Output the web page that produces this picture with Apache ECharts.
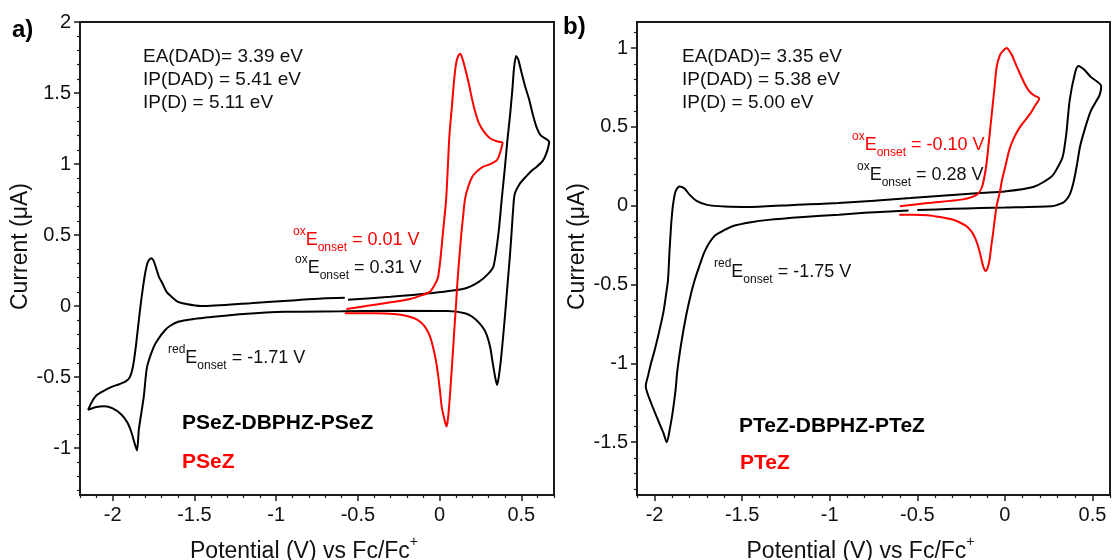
<!DOCTYPE html>
<html><head><meta charset="utf-8">
<script src="https://cdn.jsdelivr.net/npm/echarts@6/dist/echarts.min.js"></script>
<style>html,body{margin:0;padding:0;background:#fff}#c{width:1112px;height:560px}</style>
</head><body><div id="c"></div>
<script>
// ---------- axis ticks / ranges ----------
const xTicksA = [-2, -1.5, -1, -0.5, 0, 0.5];
const yTicksA = [-1, -0.5, 0, 0.5, 1, 1.5, 2];
const xTicksB = [-2, -1.5, -1, -0.5, 0, 0.5];
const yTicksB = [-1.5, -1, -0.5, 0, 0.5, 1];
const xRangeA = [-2.2, 0.7];
const yRangeA = [-1.33, 2];
const xRangeB = [-2.1, 0.6];
const yRangeB = [-1.835, 1.165];

// ---------- data: [potential V, current uA] ----------
const pseZDimer = [
  [-0.56,0.045],[-0.3,0.065],[-0.06,0.09],[0.155,0.124],[0.24,0.17],[0.3,0.23],[0.33,0.28],[0.36,0.51],
  [0.38,0.75],[0.40,0.98],[0.415,1.17],[0.43,1.33],[0.445,1.52],[0.455,1.67],[0.468,1.76],[0.48,1.74],
  [0.5,1.65],[0.525,1.54],[0.549,1.45],[0.57,1.35],[0.593,1.26],[0.62,1.2],[0.67,1.157],
  [0.655,1.08],[0.63,1.02],[0.593,0.98],[0.56,0.95],[0.527,0.91],[0.49,0.86],[0.46,0.79],[0.45,0.68],
  [0.44,0.51],[0.43,0.35],[0.418,0.185],[0.405,0.0],[0.39,-0.2],[0.375,-0.38],[0.362,-0.5],[0.352,-0.555],
  [0.34,-0.5],[0.325,-0.4],[0.309,-0.286],[0.28,-0.18],[0.243,-0.12],[0.2,-0.075],[0.155,-0.05],[0.05,-0.035],
  [-0.3,-0.033],[-0.6,-0.037],[-0.94,-0.04],[-1.2,-0.055],[-1.38,-0.075],[-1.5,-0.09],[-1.6,-0.11],
  [-1.65,-0.14],[-1.68,-0.17],[-1.72,-0.23],[-1.75,-0.29],[-1.79,-0.43],[-1.81,-0.64],[-1.84,-0.87],
  [-1.851,-1.016],[-1.865,-0.97],[-1.885,-0.89],[-1.91,-0.82],[-1.95,-0.76],[-2.0,-0.72],[-2.05,-0.705],
  [-2.1,-0.71],[-2.15,-0.73],[-2.13,-0.68],[-2.1,-0.63],[-2.06,-0.6],[-2.01,-0.57],[-1.96,-0.55],
  [-1.92,-0.53],[-1.895,-0.5],[-1.875,-0.42],[-1.86,-0.3],[-1.845,-0.15],[-1.83,0.0],[-1.815,0.13],
  [-1.8,0.24],[-1.785,0.31],[-1.765,0.337],[-1.75,0.32],[-1.735,0.27],[-1.715,0.2],[-1.70,0.17],
  [-1.67,0.1],[-1.64,0.066],[-1.6,0.03],[-1.55,0.014],[-1.46,0.0],[-1.16,0.02],[-0.9,0.04],[-0.72,0.054],[-0.58,0.058]
];
const pseZMono = [
  [-0.57,-0.02],[-0.45,0.0],[-0.28,0.03],[-0.18,0.05],[-0.107,0.077],[-0.06,0.1],[-0.03,0.15],[-0.01,0.2],
  [0.005,0.33],[0.02,0.51],[0.04,0.75],[0.05,0.97],[0.06,1.2],[0.075,1.4],[0.087,1.57],[0.1,1.7],
  [0.113,1.76],[0.127,1.777],[0.14,1.74],[0.155,1.68],[0.18,1.56],[0.2,1.45],[0.22,1.36],[0.24,1.29],
  [0.27,1.23],[0.31,1.18],[0.35,1.16],[0.385,1.15],
  [0.37,1.08],[0.352,1.03],[0.31,1.0],[0.265,0.98],[0.23,0.95],[0.2,0.91],[0.175,0.84],[0.155,0.75],
  [0.143,0.62],[0.133,0.51],[0.12,0.33],[0.11,0.185],[0.1,0.0],[0.09,-0.17],[0.08,-0.35],[0.07,-0.52],
  [0.06,-0.68],[0.055,-0.75],[0.048,-0.82],[0.042,-0.848],[0.03,-0.8],[0.013,-0.71],[0.0,-0.57],
  [-0.02,-0.4],[-0.04,-0.29],[-0.06,-0.21],[-0.09,-0.145],[-0.13,-0.1],[-0.2,-0.07],[-0.28,-0.055],
  [-0.4,-0.05],[-0.58,-0.05]
];
const pteZDimer = [
  [-0.55,-0.03],[-0.8,-0.045],[-0.947,-0.057],[-1.15,-0.072],[-1.35,-0.09],[-1.45,-0.105],[-1.555,-0.13],
  [-1.61,-0.16],[-1.656,-0.19],[-1.69,-0.24],[-1.717,-0.30],[-1.74,-0.37],[-1.757,-0.425],[-1.77,-0.47],
  [-1.79,-0.55],[-1.82,-0.70],[-1.85,-0.89],[-1.87,-1.05],[-1.88,-1.17],[-1.895,-1.3],[-1.91,-1.40],
  [-1.93,-1.5],[-1.95,-1.44],[-1.98,-1.36],[-2.02,-1.25],[-2.05,-1.145],
  [-2.035,-1.07],[-2.02,-1.0],[-2.0,-0.92],[-1.98,-0.83],[-1.95,-0.68],[-1.935,-0.57],[-1.923,-0.47],
  [-1.915,-0.3],[-1.905,-0.12],[-1.895,0.0],[-1.88,0.09],[-1.858,0.122],[-1.83,0.11],[-1.8,0.07],
  [-1.76,0.03],[-1.7,0.005],[-1.6,-0.005],[-1.45,-0.008],[-1.2,0.005],[-0.95,0.017],[-0.54,0.048],
  [-0.14,0.08],[0.0,0.09],[0.166,0.12],[0.267,0.185],[0.3,0.24],[0.33,0.31],[0.35,0.45],[0.37,0.67],
  [0.4,0.84],[0.419,0.886],[0.45,0.865],[0.49,0.817],[0.55,0.758],
  [0.54,0.70],[0.52,0.66],[0.49,0.6],[0.46,0.5],[0.43,0.38],[0.41,0.25],[0.39,0.14],[0.37,0.07],
  [0.34,0.025],[0.3,0.005],[0.267,-0.004],[0.0,-0.012],[-0.14,-0.015],[-0.3,-0.02],[-0.5,-0.028]
];
const pteZMono = [
  [-0.6,-0.004],[-0.44,0.017],[-0.24,0.04],[-0.16,0.07],[-0.13,0.12],[-0.107,0.25],[-0.09,0.42],
  [-0.077,0.56],[-0.06,0.74],[-0.047,0.88],[-0.03,0.95],[-0.016,0.975],[0.01,1.0],[0.03,0.975],
  [0.045,0.943],[0.065,0.89],[0.085,0.84],[0.11,0.78],[0.136,0.73],[0.165,0.7],[0.196,0.68],
  [0.17,0.63],[0.146,0.585],[0.1,0.52],[0.065,0.46],[0.04,0.4],[0.024,0.35],[0.005,0.26],[-0.016,0.164],
  [-0.03,0.08],[-0.047,0.0],[-0.057,-0.08],[-0.067,-0.17],[-0.077,-0.25],[-0.087,-0.34],[-0.1,-0.40],
  [-0.111,-0.415],[-0.125,-0.38],[-0.138,-0.32],[-0.152,-0.26],[-0.168,-0.21],[-0.19,-0.165],
  [-0.219,-0.13],[-0.26,-0.105],[-0.3,-0.088],[-0.37,-0.072],[-0.44,-0.06],[-0.52,-0.057],[-0.603,-0.057]
];

// ---------- text ----------
const FONT = '"Liberation Sans", Arial, sans-serif';
const energyA = ['EA(DAD)= 3.39 eV', 'IP(DAD) = 5.41 eV', 'IP(D) = 5.11 eV'];
const energyB = ['EA(DAD)= 3.35 eV', 'IP(DAD) = 5.38 eV', 'IP(D) = 5.00 eV'];

function minors(r, majors) {
  const out = [];
  const start = Math.ceil(r[0] * 10 - 1e-6), end = Math.floor(r[1] * 10 + 1e-6);
  for (let i = start; i <= end; i++) {
    const v = +(i / 10).toFixed(2);
    if (!majors.some(m => Math.abs(m - v) < 1e-6)) out.push(v);
  }
  return out;
}

const AX = '#1a1a1a';
function xAxes(grid, range, ticks) {
  return [{
    gridIndex: grid, type: 'value', min: range[0], max: range[1],
    axisLine: { show: true, onZero: false, lineStyle: { color: AX, width: 2 } },
    axisTick: { show: true, customValues: ticks, length: 6, lineStyle: { color: AX, width: 1.5 } },
    axisLabel: { customValues: ticks, fontSize: 20, color: '#111', fontFamily: FONT, margin: 10 },
    splitLine: { show: false },
    name: '{a|Potential (V) vs Fc/Fc}{b|+}', nameLocation: 'middle', nameGap: 40,
    nameTextStyle: { padding: [0, 26, 0, 0], rich: {
      a: { fontSize: 23, fontFamily: FONT, color: '#111', lineHeight: 28, verticalAlign: 'bottom' },
      b: { fontSize: 14, fontFamily: FONT, color: '#111', lineHeight: 28, verticalAlign: 'top' } } }
  }, {
    gridIndex: grid, type: 'value', min: range[0], max: range[1], position: 'bottom',
    axisLine: { show: false, onZero: false },
    axisTick: { show: true, customValues: minors(range, ticks), length: 3, lineStyle: { color: AX, width: 1.2 } },
    axisLabel: { show: false }, splitLine: { show: false }
  }];
}
function yAxes(grid, range, ticks) {
  return [{
    gridIndex: grid, type: 'value', min: range[0], max: range[1],
    axisLine: { show: true, onZero: false, lineStyle: { color: AX, width: 2 } },
    axisTick: { show: true, customValues: ticks, length: 6, lineStyle: { color: AX, width: 1.5 } },
    axisLabel: { customValues: ticks, fontSize: 20, color: '#111', fontFamily: FONT, margin: 9 },
    splitLine: { show: false },
    name: 'Current (\u03bcA)', nameLocation: 'middle', nameGap: 45, nameRotate: 90,
    nameTextStyle: { fontSize: 23, fontFamily: FONT, color: '#111', padding: [0, 0, 0, 24] }
  }, {
    gridIndex: grid, type: 'value', min: range[0], max: range[1], position: 'left',
    axisLine: { show: false, onZero: false },
    axisTick: { show: true, customValues: minors(range, ticks), length: 3, lineStyle: { color: AX, width: 1.2 } },
    axisLabel: { show: false }, splitLine: { show: false }
  }];
}

function txt(x, y, text, opts) {
  return { type: 'text', x: x, y: y, z: 100, style: Object.assign({
    text: text, fill: '#111', fontSize: 19, fontFamily: FONT, verticalAlign: 'middle', align: 'left' }, opts || {}) };
}
function onset(x, y, sup, val, color) {
  return txt(x, y, '{p|' + sup + '}{e|E}{s|onset}{e| = ' + val + '}', {
    fill: color,
    rich: {
      p: { fontSize: 12, fontFamily: FONT, fill: color, color: color, verticalAlign: 'top', lineHeight: 12 },
      e: { fontSize: 18, fontFamily: FONT, fill: color, color: color, verticalAlign: 'middle', lineHeight: 28 },
      s: { fontSize: 12, fontFamily: FONT, fill: color, color: color, verticalAlign: 'bottom', lineHeight: 12 }
    }
  });
}

const RED = '#ff0000', BLK = '#000000';
const graphics = [
  txt(12, 30, 'a)', { fontSize: 24, fontWeight: 'bold', fill: '#000' }),
  txt(563, 27, 'b)', { fontSize: 24, fontWeight: 'bold', fill: '#000' }),
  txt(143, 57, energyA[0]), txt(143, 80, energyA[1]), txt(143, 103, energyA[2]),
  txt(682, 57, energyB[0]), txt(682, 80, energyB[1]), txt(682, 103, energyB[2]),
  onset(293, 240, 'ox', '0.01 V', RED),
  onset(295, 268, 'ox', '0.31 V', '#111'),
  onset(168, 358, 'red', '-1.71 V', '#111'),
  onset(852, 145, 'ox', '-0.10 V', RED),
  onset(857, 175, 'ox', '0.28 V', '#111'),
  onset(714, 272, 'red', '-1.75 V', '#111'),
  txt(182, 423, 'PSeZ-DBPHZ-PSeZ', { fontSize: 21, fontWeight: 'bold', fill: '#000' }),
  txt(182, 462, 'PSeZ', { fontSize: 21, fontWeight: 'bold', fill: RED }),
  txt(739, 426, 'PTeZ-DBPHZ-PTeZ', { fontSize: 21, fontWeight: 'bold', fill: '#000' }),
  txt(740, 463, 'PTeZ', { fontSize: 21, fontWeight: 'bold', fill: RED })
];

function cv(name, data, xi, yi, color) {
  return { name: name, type: 'line', data: data, xAxisIndex: xi, yAxisIndex: yi,
    showSymbol: false, symbol: 'none', smooth: 0.25, clip: true,
    lineStyle: { color: color, width: 2 }, itemStyle: { color: color }, z: color === RED ? 3 : 2,
    animation: false };
}

const chart = echarts.init(document.getElementById('c'), null, { renderer: 'canvas' });
chart.setOption({
  backgroundColor: '#ffffff',
  animation: false,
  grid: [
    { left: 80, top: 22, width: 474, height: 473, show: true, borderColor: AX, borderWidth: 2,
      backgroundColor: 'transparent', containLabel: false, outerBoundsMode: 'none' },
    { left: 637, top: 22, width: 473, height: 473, show: true, borderColor: AX, borderWidth: 2,
      backgroundColor: 'transparent', containLabel: false, outerBoundsMode: 'none' }
  ],
  xAxis: [].concat(xAxes(0, xRangeA, xTicksA), xAxes(1, xRangeB, xTicksB)),
  yAxis: [].concat(yAxes(0, yRangeA, yTicksA), yAxes(1, yRangeB, yTicksB)),
  series: [
    cv('PSeZ-DBPHZ-PSeZ', pseZDimer, 0, 0, BLK),
    cv('PSeZ', pseZMono, 0, 0, RED),
    cv('PTeZ-DBPHZ-PTeZ', pteZDimer, 2, 2, BLK),
    cv('PTeZ', pteZMono, 2, 2, RED)
  ],
  graphic: graphics
});
</script></body></html>
